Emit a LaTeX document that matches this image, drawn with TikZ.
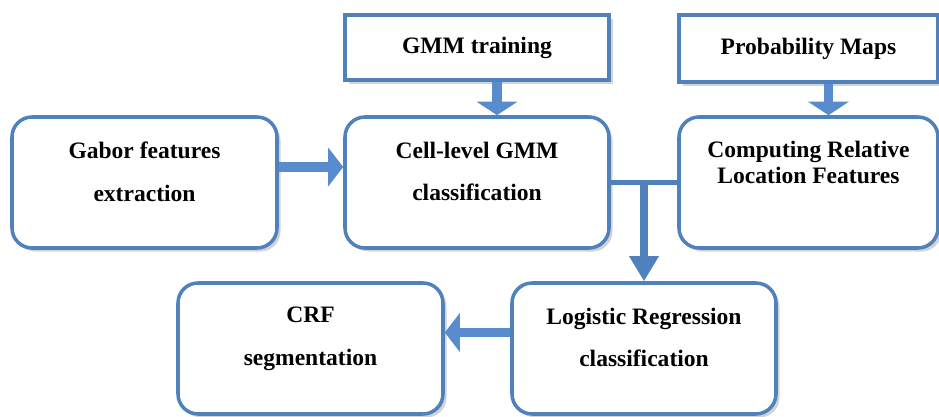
\documentclass[tikz,border=0pt]{standalone}
\usepackage{fontspec}
\setmainfont{Liberation Serif}
\usepackage{tikz}
\usetikzlibrary{arrows.meta,shadows,calc}
\usepackage{xcolor}
\definecolor{boxblue}{RGB}{79,129,189}
\definecolor{arrowblue}{RGB}{88,140,206}

\begin{document}
\begin{tikzpicture}[
    font=\fontsize{13.4}{24.4}\selectfont\bfseries,
    flatbox/.style={draw=boxblue, line width=2pt, fill=white,
      minimum width=5.28cm, minimum height=1.3cm, inner sep=0pt,
      drop shadow={shadow xshift=2pt, shadow yshift=-2pt, opacity=0.35}},
    roundbox/.style={flatbox, rounded corners=0.4cm, minimum height=2.62cm},
    txt/.style={align=center, inner sep=0pt},
    blockarrow/.style={arrowblue, line width=5.6pt,
      -{Triangle[length=0.3cm, width=0.76cm]}},
    linkline/.style={boxblue, line width=3.4pt}
  ]
  \useasboundingbox (0,0) rectangle (18.78,8.34);
  % top row
  \node[flatbox] (train) at (9.54,7.39) {GMM training};
  \node[flatbox, minimum width=5.18cm, minimum height=1.34cm]
    (maps) at (16.17,7.37) {Probability Maps};
  % middle row
  \node[roundbox, minimum width=5.3cm] (gabor) at (2.89,4.69) {};
  \node[roundbox] (cell) at (9.54,4.69) {};
  \node[roundbox, minimum width=5.18cm] (reloc) at (16.17,4.69) {};
  \node[txt] (gabortxt) at ([yshift=0.22cm]gabor.center)
    {Gabor features\\extraction};
  \node[txt] (celltxt) at ([yshift=0.22cm]cell.center)
    {Cell-level GMM\\classification};
  \node[txt, font=\fontsize{13.4}{14.6}\selectfont\bfseries]
    (reloctxt) at ([yshift=0.4cm]reloc.center)
    {Computing Relative\\Location Features};
  % bottom row
  \node[roundbox, minimum width=5.3cm] (crf) at (6.21,1.37) {};
  \node[roundbox] (logreg) at (12.88,1.37) {};
  \node[txt] (crftxt) at ([yshift=0.19cm]crf.center)
    {CRF\\segmentation};
  \node[txt] (logregtxt) at ([yshift=0.22cm]logreg.center)
    {Logistic Regression\\classification};
  % arrows
  \draw[blockarrow] ([yshift=0.31cm]gabor.east) -- ([yshift=0.31cm]cell.west);
  \draw[blockarrow, -{Triangle[length=0.27cm, width=0.8cm]}]
    ([xshift=0.4cm]train.south) -- ([xshift=0.4cm]cell.north);
  \draw[blockarrow, -{Triangle[length=0.27cm, width=0.8cm]}]
    ([xshift=0.4cm]maps.south) -- ([xshift=0.4cm]reloc.north);
  \draw[linkline] (cell.east) -- (reloc.west);
  \draw[linkline, line width=4pt, -{Triangle[length=0.5cm, width=0.56cm]}]
    (logreg.north |- cell.east) -- (logreg.north);
  \draw[blockarrow] ([yshift=0.32cm]logreg.west) -- ([yshift=0.32cm]crf.east);
\end{tikzpicture}
\end{document}
